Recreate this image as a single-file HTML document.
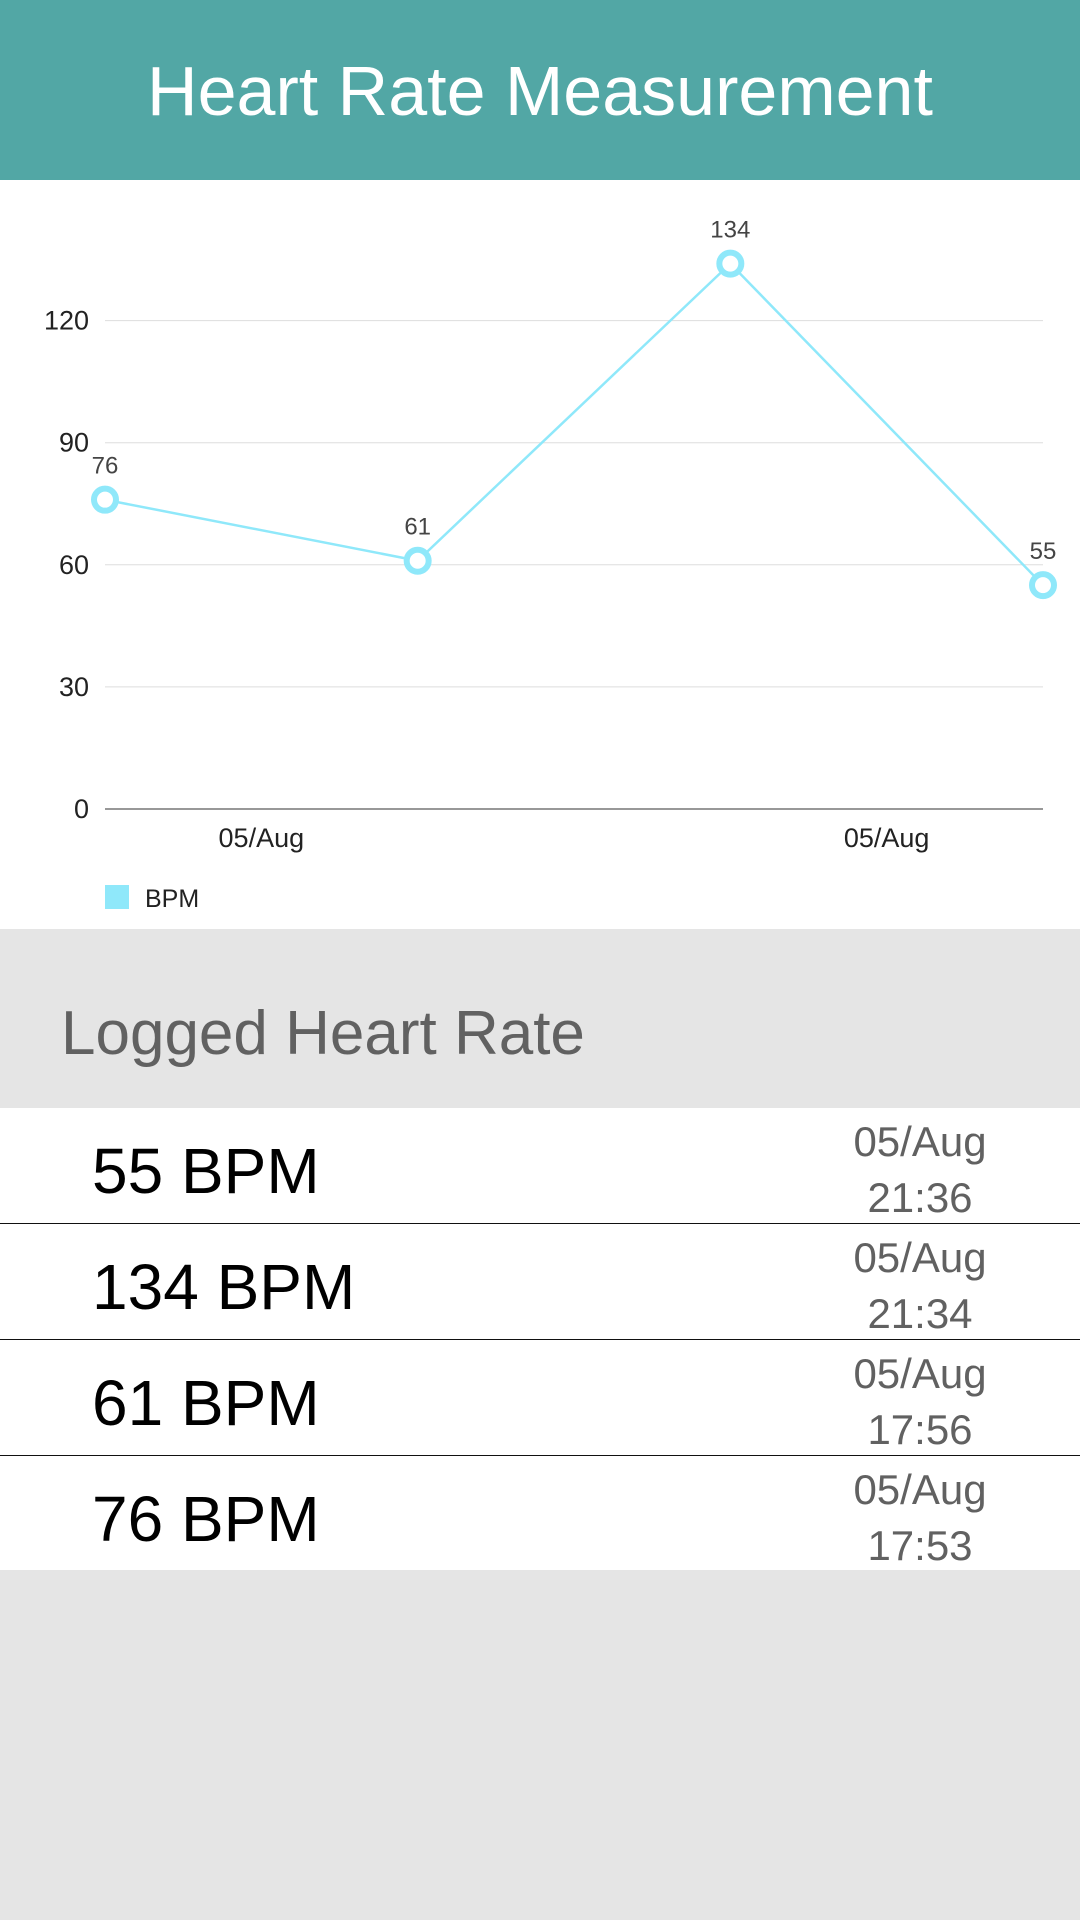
<!DOCTYPE html>
<html><head><meta charset="utf-8"><style>
body{margin:0;width:1080px;height:1920px;background:#e5e5e5;font-family:"Liberation Sans",sans-serif;position:relative;overflow:hidden}
.hdr{position:absolute;left:0;top:0;width:1080px;height:180px;background:#52a7a5;color:#fff;font-size:70px;text-align:center;line-height:182px}
.chart{position:absolute;left:0;top:180px;width:1080px;height:749px;background:#fff}
.sec{position:absolute;left:61px;top:998px;font-size:62px;color:#616161}
.row{position:absolute;left:0;width:1080px;height:115px;background:#fff;border-bottom:1.5px solid #111}
.row .v{position:absolute;left:92px;top:26px;font-size:64px;color:#000}
.row .d{position:absolute;left:820px;width:200px;top:6px;text-align:center;font-size:42px;line-height:56px;color:#616161}
</style></head><body>
<div class="hdr">Heart Rate Measurement</div>
<svg class="chart" width="1080" height="749" viewBox="0 180 1080 749" id="ch"></svg>
<div class="sec">Logged Heart Rate</div>
<div class="row" style="top:1108px"><div class="v">55 BPM</div><div class="d">05/Aug<br>21:36</div></div>
<div class="row" style="top:1224px"><div class="v">134 BPM</div><div class="d">05/Aug<br>21:34</div></div>
<div class="row" style="top:1340px"><div class="v">61 BPM</div><div class="d">05/Aug<br>17:56</div></div>
<div class="row" style="top:1456px;border-bottom:none;height:114px"><div class="v">76 BPM</div><div class="d">05/Aug<br>17:53</div></div>
<script>
const values=[76,61,134,55];
const yTicks=[0,30,60,90,120];
const xLabels=["05/Aug","05/Aug"];
const xLabelPos=[0.5,2.5];
const NS="http://www.w3.org/2000/svg";
const svg=document.getElementById('ch');
const x0=105,x1=1043,yB=809,yPer=122.1/30;
const X=i=>x0+i*(x1-x0)/(values.length-1);
const Y=v=>yB-v*yPer;
function mk(t,a,txt){const e=document.createElementNS(NS,t);for(const k in a)e.setAttribute(k,a[k]);if(txt!=null)e.textContent=txt;svg.appendChild(e);return e;}
yTicks.forEach(t=>{
 const l=mk('line',{x1:x0,x2:x1,y1:Y(t),y2:Y(t),stroke:t==0?'#777':'#ddd','stroke-width':t==0?1.5:1});
 
 
 const tx=mk('text',{x:89,y:Y(t)+9,'text-anchor':'end','font-size':27,fill:'#222'},t);
 
 
});
xLabels.forEach((s,i)=>{
 const tx=mk('text',{x:x0+(xLabelPos[i]/(values.length-1))*(x1-x0),y:847,'text-anchor':'middle','font-size':27,fill:'#222'},s);
 
 
});
const pl=mk('polyline',{points:values.map((v,i)=>X(i)+','+Y(v)).join(' '),fill:'none',stroke:'#8fe8fa','stroke-width':2.5});


values.forEach((v,i)=>{
 const c=mk('circle',{cx:X(i),cy:Y(v),r:11,fill:'#fff',stroke:'#8fe8fa','stroke-width':6});
 
 
 const t=mk('text',{x:X(i),y:Y(v)-26,'text-anchor':'middle','font-size':24,fill:'#444'},v);
 
 
});
const lg=mk('rect',{x:105,y:885,width:24,height:24,fill:'#8fe8fa'});


const lt=mk('text',{x:145,y:907,'font-size':25,fill:'#222'},'BPM');


</script>
</body></html>
